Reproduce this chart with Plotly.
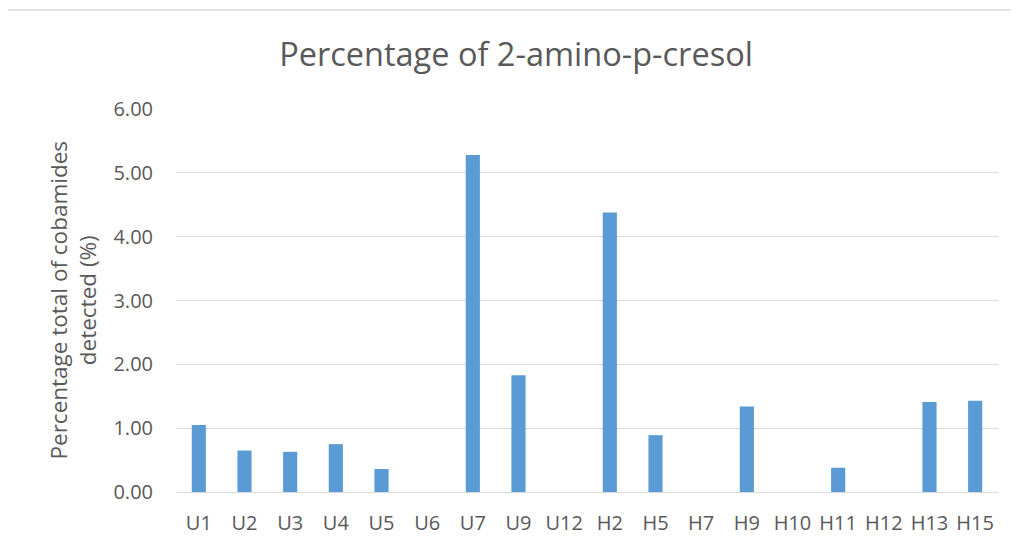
import plotly.graph_objects as go

# samples and measured share of 2-amino-p-cresol (%)
samples = ["U1", "U2", "U3", "U4", "U5", "U6", "U7", "U9", "U12",
           "H2", "H5", "H7", "H9", "H10", "H11", "H12", "H13", "H15"]
percent = [1.05, 0.65, 0.63, 0.75, 0.36, 0.0, 5.28, 1.83, 0.0,
           4.38, 0.89, 0.0, 1.34, 0.0, 0.38, 0.0, 1.41, 1.43]
y_ticks = [0, 1, 2, 3, 4, 5, 6]

FONT = "'Open Sans', sans-serif"
GREY = "#595959"

fig = go.Figure()
fig.add_trace(go.Bar(
    x=samples,
    y=percent,
    marker=dict(color="#5B9BD5", line=dict(width=0)),
))

# the page has an 8px body margin, so size the figure to fit inside it
fig.update_layout(
    width=1003,
    height=533,
    margin=dict(l=168, r=13, t=101, b=49),
    paper_bgcolor="white",
    plot_bgcolor="white",
    bargap=0.69,
    showlegend=False,
    font=dict(family=FONT, color=GREY),
    title=dict(
        text="Percentage of 2-amino-p-cresol",
        x=0.5065, xanchor="center",
        y=0.912, yanchor="middle",
        font=dict(size=32.5, color=GREY, family=FONT),
        automargin=False,
    ),
    xaxis=dict(
        showgrid=False,
        showline=True, linecolor="#D9D9D9", linewidth=1.3,
        tickfont=dict(size=20, color=GREY),
        ticklabelstandoff=13,
        automargin=False,
    ),
    yaxis=dict(
        range=[0, 6],
        tickvals=y_ticks,
        tickformat=".2f",
        showgrid=True, gridcolor="#D9D9D9", gridwidth=1.3,
        zeroline=True, zerolinecolor="#D9D9D9", zerolinewidth=1.3,
        showline=False,
        tickfont=dict(size=20, color=GREY),
        ticklabelstandoff=22,
        automargin=False,
    ),
)

fig.add_annotation(
    text="Percentage total of cobamides<br>detected (%)",
    xref="paper", yref="paper",
    x=-0.1265, y=0.5,
    xanchor="center", yanchor="middle",
    textangle=-90,
    showarrow=False,
    font=dict(size=22.5, color=GREY, family=FONT),
)

# outer chart frame (top edge visible in the reference)
fig.add_shape(
    type="rect", xref="paper", yref="paper",
    x0=-0.3, x1=1.2, y0=-0.3, y1=1.2585,
    line=dict(color="#D9D9D9", width=1.3),
    layer="below",
)

fig.write_html("out.html")
